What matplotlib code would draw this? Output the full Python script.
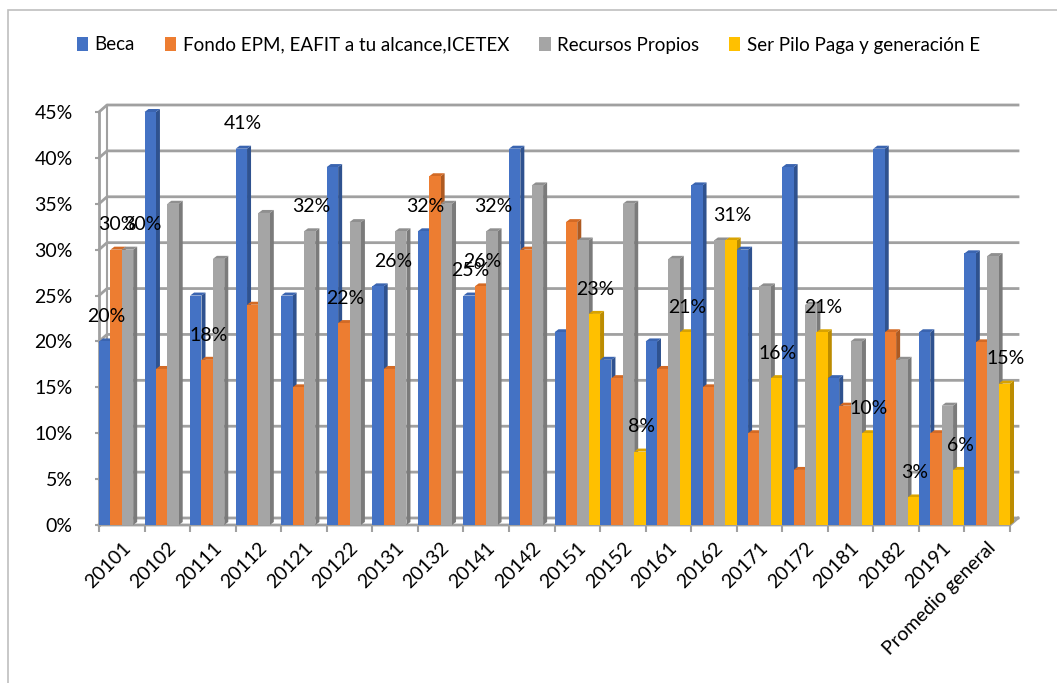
import numpy as np
import matplotlib
matplotlib.use("Agg")
from matplotlib import pyplot as plt
from matplotlib.patches import Polygon, Rectangle
from matplotlib.lines import Line2D
from matplotlib.ticker import PercentFormatter, FixedLocator

plt.rcParams['font.family'] = ['Lato', 'DejaVu Sans']

# data (fractions)
categories = ["20101", "20102", "20111", "20112", "20121", "20122", "20131", "20132",
              "20141", "20142", "20151", "20152", "20161", "20162", "20171", "20172",
              "20181", "20182", "20191", "Promedio general"]
beca = [0.20, 0.45, 0.25, 0.41, 0.25, 0.39, 0.26, 0.32, 0.25, 0.41,
        0.21, 0.18, 0.20, 0.37, 0.30, 0.39, 0.16, 0.41, 0.21, 0.296]
fondo = [0.30, 0.17, 0.18, 0.24, 0.15, 0.22, 0.17, 0.38, 0.26, 0.30,
         0.33, 0.16, 0.17, 0.15, 0.10, 0.06, 0.13, 0.21, 0.10, 0.199]
propios = [0.30, 0.35, 0.29, 0.34, 0.32, 0.33, 0.32, 0.35, 0.32, 0.37,
           0.31, 0.35, 0.29, 0.31, 0.26, 0.24, 0.20, 0.18, 0.13, 0.293]
pilo = [np.nan] * 10 + [0.23, 0.08, 0.21, 0.31, 0.16, 0.21, 0.10, 0.03, 0.06, 0.154]

series = [beca, fondo, propios, pilo]
names = ["Beca", "Fondo EPM, EAFIT a tu alcance,ICETEX", "Recursos Propios",
         "Ser Pilo Paga y generación E"]
colors = ["#4472C4", "#ED7D31", "#A5A5A5", "#FFC000"]
sides = ["#2F528F", "#AE5A21", "#7B7B7B", "#BC8C00"]
tops = ["#3A64B0", "#D36A25", "#8F8F8F", "#D9A300"]

# data labels: (category index, series index, x nudge in group units)
labels = [(0, 0, 0), (0, 1, 0), (0, 2, 0.3), (2, 1, 0), (3, 0, 0), (4, 2, 0),
          (5, 1, 0), (6, 0, 0.3), (7, 0, 0), (8, 0, 0), (8, 1, 0), (8, 2, 0),
          (10, 3, 0), (11, 3, 0), (12, 3, 0), (13, 3, 0), (14, 3, 0), (15, 3, 0),
          (16, 3, 0), (17, 3, 0), (18, 3, 0), (19, 3, 0)]

W, H = 1057, 683
fig = plt.figure(figsize=(W / 100, H / 100), dpi=100)
ax = fig.add_axes([99 / W, (H - 525) / H, 911 / W, 413 / H])
n = len(categories)
ymax = 0.45
ax.set_xlim(0, n)
ax.set_ylim(0, ymax)

# pixel -> data conversion for the fake 3D depth
pxX = n / 911.0
pxY = ymax / 413.0
bdx, bdy = 4 * pxX, 3 * pxY        # bar depth
wdx, wdy = 8 * pxX, 7 * pxY        # back wall offset
gridc = "#A0A0A0"

# back wall gridlines
yt = np.arange(0, 0.451, 0.05)
for y in yt:
    ax.add_line(Line2D([0, wdx, n + wdx], [y, y + wdy, y + wdy], color=gridc, lw=2,
                       zorder=1, clip_on=False))
ax.add_line(Line2D([wdx, wdx], [wdy, ymax + wdy], color=gridc, lw=1.5, zorder=1, clip_on=False))
ax.add_line(Line2D([0, 0], [0, ymax], color=gridc, lw=2, zorder=1, clip_on=False))
ax.add_line(Line2D([0, n, n + wdx], [0, 0, wdy], color=gridc, lw=2, zorder=1, clip_on=False))

# bars
bw = 0.25
z = 2
for i in range(n):
    for k, vals in enumerate(series):
        h = vals[i]
        if np.isnan(h):
            continue
        x0 = i + k * bw
        x1 = x0 + bw
        ax.add_patch(Polygon([(x1, 0), (x1 + bdx, bdy), (x1 + bdx, h + bdy), (x1, h)],
                             closed=True, fc=sides[k], ec="none", zorder=z, clip_on=False))
        ax.add_patch(Polygon([(x0, h), (x0 + bdx, h + bdy), (x1 + bdx, h + bdy), (x1, h)],
                             closed=True, fc=tops[k], ec="none", zorder=z, clip_on=False))
        ax.bar(x0, h, width=bw, align="edge", color=colors[k], zorder=z + 0.5)
        z += 1

# data labels
for ci, si, nudge in labels:
    v = series[si][ci]
    ax.text(ci + si * bw + bw / 2 + 0.03 + nudge, v + 0.027, f"{round(v * 100):.0f}%",
            ha="center", va="center", fontsize=14, zorder=200)

# axes styling
for s in ax.spines.values():
    s.set_visible(False)
ax.yaxis.set_major_locator(FixedLocator(yt))
ax.yaxis.set_major_formatter(PercentFormatter(1.0, decimals=0))
ax.tick_params(axis="y", length=3, color=gridc, width=1.5, pad=16, labelsize=14)
ax.set_xticks(np.arange(n) + 0.5)
ax.set_xticklabels(categories, rotation=45, ha="right", rotation_mode="anchor", fontsize=14)
ax.tick_params(axis="x", which="major", length=0, pad=10)
ax.set_xticks(np.arange(n + 1), minor=True)
ax.tick_params(axis="x", which="minor", length=5, color=gridc, width=1.5)

# legend
handles = [Rectangle((0, 0), 1, 1, fc=c, ec="none") for c in colors]
fig.legend(handles, names, loc="center", bbox_to_anchor=(0.5, 1 - 45 / H), ncol=4,
           frameon=False, fontsize=13.5, handlelength=0.6, handleheight=0.75,
           handletextpad=0.35, columnspacing=1.6)

# chart border
fig.add_artist(Rectangle((8 / W, -0.1), 1.2, (H - 10) / H + 0.1, transform=fig.transFigure,
                         fill=False, ec="#BFBFBF", lw=1.2))

fig.savefig("out.png", dpi=100)
